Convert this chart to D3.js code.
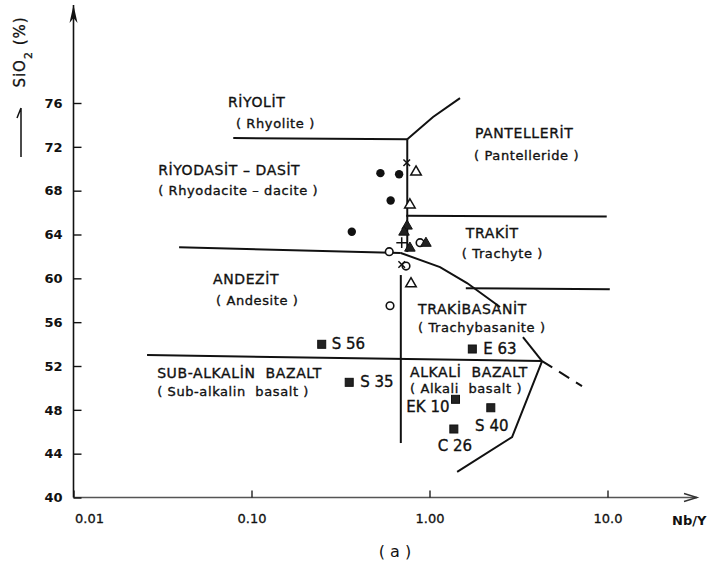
<!DOCTYPE html>
<html>
<head>
<meta charset="utf-8">
<script src="https://cdn.jsdelivr.net/npm/d3@7"></script>
<style>
  body { margin: 0; background: #fff; }
  text { font-family: "DejaVu Sans", sans-serif; fill: #111; }
</style>
</head>
<body>
<svg id="plot" width="725" height="571"></svg>
<script>
// samples: [Nb/Y, SiO2 %]
var filledCircles = [[0.53, 69.6], [0.675, 69.5], [0.605, 67.1], [0.366, 64.25]];
var openCircles = [[0.594, 62.43], [0.885, 63.25], [0.738, 61.12], [0.60, 57.5]];
var openTriangles = [[0.84, 69.7], [0.776, 66.7], [0.787, 59.5]];
var filledTriangles = [[0.748, 64.77], [0.719, 64.22], [0.776, 62.76], [0.955, 63.2]];
var crosses = [[0.745, 70.55], [0.698, 61.26]];
var pluses = [[0.698, 63.25]];

// basalt samples (squares)
var basaltNames = ["S 56", "E 63", "S 35", "EK 10", "S 40", "C 26"];
var basaltNbY = [0.248, 1.74, 0.354, 1.40, 2.21, 1.37];
var basaltSiO2 = [53.98, 53.55, 50.51, 48.96, 48.19, 46.25];

// axis ticks
var yTicks = [40, 44, 48, 52, 56, 60, 64, 68, 72, 76];
var xTicks = [0.01, 0.1, 1, 10];
var xTickLabels = ["0.01", "0.10", "1.00", "10.0"];

// field boundaries (Nb/Y, SiO2)
var rhyoliteBase = [[0.079, 72.8], [0.75, 72.7]];
var pantelleriteEdge = [[0.75, 72.7], [1.047, 74.72], [1.484, 76.45]];
var upperSplit = [[0.75, 72.7], [0.75, 62.4]];
var trachyteTop = [[0.74, 65.7], [9.9, 65.65]];
var andesiteTop = [[0.0392, 62.83], [0.69, 62.31]];
var trachyBasTop = [[0.69, 62.31], [1.146, 61.03], [1.625, 59.57], [2.49, 57.38]];
var trachyBasEdge = [[3.35, 54.64], [4.29, 52.45]];
var trachyteBase = [[1.6, 59.1], [10.3, 59.0]];
var lowerSplit = [[0.69, 60.3], [0.69, 44.97]];
var basaltTop = [[0.0259, 53.0], [4.29, 52.45]];
var alkaliEdge = [[4.29, 52.45], [2.91, 45.52], [1.43, 42.33]];
var dashedEdge = [[4.29, 52.45], [7.19, 50.17]];

// field names: [text, Nb/Y, SiO2 at baseline, font size]
var fieldNames = [
  ["RİYOLİT", 0.0738, 75.6, 14],
  ["( Rhyolite )", 0.0818, 73.7, 13],
  ["PANTELLERİT", 1.80, 72.81, 14],
  ["( Pantelleride )", 1.78, 70.8, 13],
  ["RİYODASİT – DASİT", 0.0299, 69.43, 14],
  ["( Rhyodacite – dacite )", 0.0299, 67.6, 13],
  ["TRAKİT", 1.60, 63.68, 14],
  ["( Trachyte )", 1.52, 61.86, 13],
  ["ANDEZİT", 0.0608, 59.49, 14],
  ["( Andesite )", 0.0632, 57.56, 13],
  ["TRAKİBASANİT", 0.862, 56.74, 14],
  ["( Trachybasanite )", 0.862, 55.1, 13],
  ["SUB-ALKALİN  BAZALT", 0.0295, 50.9, 14],
  ["( Sub-alkalin  basalt )", 0.0295, 49.26, 13],
  ["ALKALİ  BAZALT", 0.777, 50.99, 14],
  ["( Alkali  basalt )", 0.777, 49.53, 13]
];

var svg = d3.select("#plot");

var x = d3.scaleLog().domain([0.01, 10]).range([73.5, 607.5]);
var y = d3.scaleLinear().domain([40, 76]).range([497.5, 103]);

var x0 = x.range()[0], y0 = y.range()[0];

// axis lines with arrows
svg.append("path")
  .attr("d", "M" + x0 + "," + y0 + "V5")
  .attr("stroke", "#111").attr("stroke-width", 1.6).attr("fill", "none");
svg.append("path")
  .attr("d", "M" + x0 + ",5 L" + (x0 - 4) + ",23 L" + x0 + ",18 L" + (x0 + 4) + ",23 Z")
  .attr("fill", "#111");
svg.append("path")
  .attr("d", "M" + x0 + "," + y0 + "H697")
  .attr("stroke", "#555").attr("stroke-width", 1.4).attr("fill", "none");
svg.append("path")
  .attr("d", "M684," + (y0 - 4) + " L697," + y0 + " L684," + (y0 + 4))
  .attr("stroke", "#333").attr("stroke-width", 1.4).attr("fill", "none");

var yAxis = svg.append("g")
  .attr("transform", "translate(" + x0 + ",0)")
  .call(d3.axisLeft(y)
    .tickValues(yTicks)
    .tickFormat(d3.format("d"))
    .tickSizeInner(-8)
    .tickSizeOuter(0)
    .tickPadding(11));
yAxis.select(".domain").remove();
yAxis.selectAll("line").attr("stroke", "#111").attr("stroke-width", 1.4);
yAxis.selectAll("text")
  .style("font-family", "DejaVu Sans, sans-serif")
  .style("font-size", "13px").style("font-weight", "bold").attr("fill", "#111");

var xAxis = svg.append("g")
  .attr("transform", "translate(0," + y0 + ")")
  .call(d3.axisBottom(x)
    .tickValues(xTicks)
    .tickFormat((d, i) => xTickLabels[i])
    .tickSizeInner(-7)
    .tickSizeOuter(0)
    .tickPadding(16));
xAxis.select(".domain").remove();
xAxis.selectAll("line").attr("stroke", "#111").attr("stroke-width", 1.3);
xAxis.selectAll("text")
  .style("font-family", "DejaVu Sans, sans-serif")
  .style("font-size", "13px").attr("fill", "#111")
  .attr("stroke", "#111").attr("stroke-width", 0.3);
xAxis.selectAll("text").filter((d, i) => i === 0)
  .attr("text-anchor", "start").attr("x", 1);

// axis titles
svg.append("text")
  .attr("x", 672).attr("y", 525)
  .style("font-size", "13px").style("font-weight", "bold")
  .text("Nb/Y");

var yTitle = svg.append("text")
  .attr("transform", "translate(25,52) rotate(-90)")
  .attr("text-anchor", "middle")
  .attr("stroke", "#111").attr("stroke-width", 0.3)
  .style("font-size", "15px")
  .style("letter-spacing", "1px");
yTitle.append("tspan").text("SiO");
yTitle.append("tspan").attr("baseline-shift", "sub").style("font-size", "11px").text("2");
yTitle.append("tspan").text(" (%)");
svg.append("path")
  .attr("d", "M21,157 V108 M21,108 L17,118")
  .attr("stroke", "#111").attr("stroke-width", 1.5).attr("fill", "none");

svg.append("text")
  .attr("x", 395).attr("y", 557)
  .attr("text-anchor", "middle")
  .style("font-size", "16px")
  .text("( a )");

// field boundaries
var line = d3.line().x(d => x(d[0])).y(d => y(d[1]));
[rhyoliteBase, pantelleriteEdge, upperSplit, trachyteTop, andesiteTop,
  trachyBasTop, trachyBasEdge, trachyteBase, lowerSplit, basaltTop, alkaliEdge]
  .forEach(b => {
    svg.append("path")
      .attr("d", line(b))
      .attr("fill", "none")
      .attr("stroke", "#111")
      .attr("stroke-width", 2);
  });
svg.append("path")
  .attr("d", line(dashedEdge))
  .attr("fill", "none")
  .attr("stroke", "#111")
  .attr("stroke-width", 2)
  .attr("stroke-dasharray", "12,8");

// field names
svg.selectAll(".field")
  .data(fieldNames)
  .join("text")
  .attr("class", "field")
  .attr("x", d => x(d[1]))
  .attr("y", d => y(d[2]))
  .attr("stroke", "#111").attr("stroke-width", 0.35)
  .style("font-size", d => d[3] + "px")
  .style("letter-spacing", "0.6px")
  .style("white-space", "pre")
  .text(d => d[0]);

// samples
svg.selectAll(".fcirc")
  .data(filledCircles)
  .join("circle")
  .attr("class", "fcirc")
  .attr("cx", d => x(d[0])).attr("cy", d => y(d[1]))
  .attr("r", 4.2).attr("fill", "#111");

svg.selectAll(".ocirc")
  .data(openCircles)
  .join("circle")
  .attr("class", "ocirc")
  .attr("cx", d => x(d[0])).attr("cy", d => y(d[1]))
  .attr("r", 3.8).attr("fill", "#fff")
  .attr("stroke", "#111").attr("stroke-width", 1.6);

var tri = d3.symbol().type(d3.symbolTriangle).size(48);
svg.selectAll(".otri")
  .data(openTriangles)
  .join("path")
  .attr("class", "otri")
  .attr("d", tri)
  .attr("transform", d => "translate(" + x(d[0]) + "," + y(d[1]) + ")")
  .attr("fill", "#fff").attr("stroke", "#111").attr("stroke-width", 1.5);

svg.selectAll(".ftri")
  .data(filledTriangles)
  .join("path")
  .attr("class", "ftri")
  .attr("d", tri)
  .attr("transform", d => "translate(" + x(d[0]) + "," + y(d[1]) + ")")
  .attr("fill", "#222").attr("stroke", "#111").attr("stroke-width", 1);

svg.selectAll(".cross")
  .data(crosses)
  .join("path")
  .attr("class", "cross")
  .attr("d", d3.symbol().type(d3.symbolTimes).size(30))
  .attr("transform", d => "translate(" + x(d[0]) + "," + y(d[1]) + ")")
  .attr("fill", "none").attr("stroke", "#111").attr("stroke-width", 1.5);

svg.selectAll(".plus")
  .data(pluses)
  .join("path")
  .attr("class", "plus")
  .attr("d", d3.symbol().type(d3.symbolPlus).size(40))
  .attr("transform", d => "translate(" + x(d[0]) + "," + y(d[1]) + ")")
  .attr("fill", "none").attr("stroke", "#111").attr("stroke-width", 1.5);

// basalt squares and their names
var labelPlace = {
  "S 56": [10, 5, "start"], "E 63": [11, 5, "start"], "S 35": [11, 5, "start"],
  "EK 10": [-6, 13, "end"], "S 40": [1, 23, "middle"], "C 26": [1, 22, "middle"]
};
var basalts = basaltNames.map((n, i) => ({ name: n, nb: basaltNbY[i], si: basaltSiO2[i] }));

svg.selectAll(".sq")
  .data(basalts)
  .join("rect")
  .attr("class", "sq")
  .attr("x", d => x(d.nb) - 4).attr("y", d => y(d.si) - 4)
  .attr("width", 8).attr("height", 8)
  .attr("fill", "#222").attr("stroke", "#111");

svg.selectAll(".sqlab")
  .data(basalts)
  .join("text")
  .attr("class", "sqlab")
  .attr("x", d => x(d.nb) + labelPlace[d.name][0])
  .attr("y", d => y(d.si) + labelPlace[d.name][1])
  .attr("text-anchor", d => labelPlace[d.name][2])
  .attr("stroke", "#111").attr("stroke-width", 0.35)
  .style("font-size", "15px")
  .style("white-space", "pre")
  .text(d => d.name);
</script>
</body>
</html>
